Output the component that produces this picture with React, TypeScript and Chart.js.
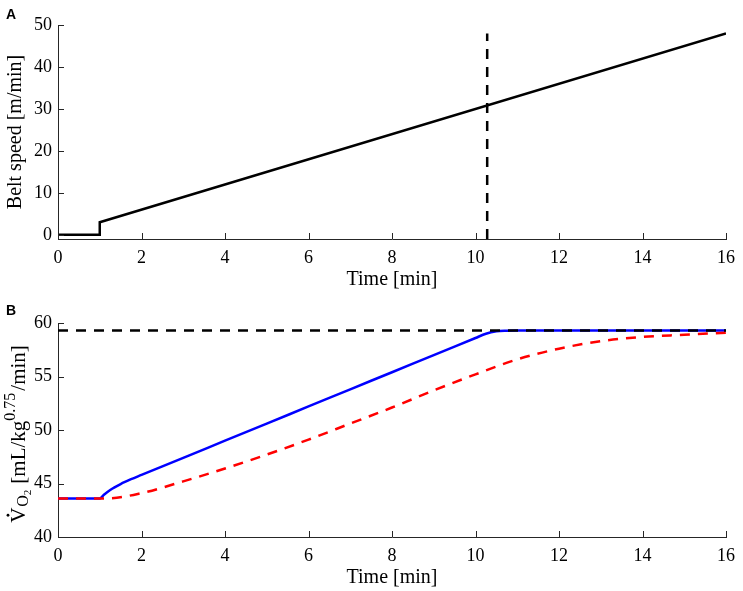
import { useEffect, useRef } from 'react'
import { Chart, registerables } from 'chart.js'
Chart.register(...registerables)

const SERIF = '"Liberation Serif", "Times New Roman", serif'
const INK = '#262626'

// shared x axis
const timeTicks = [0, 2, 4, 6, 8, 10, 12, 14, 16]

// panel A: belt speed protocol
const beltTime = [0, 1, 1, 16]
const beltSpeed = [0, 0, 3, 48]
const markTime = [10.28, 10.28]
const markSpeed = [-1, 48]
const speedTicks = [0, 10, 20, 30, 40, 50]

// panel B: oxygen uptake
const modelTime = [0, 1, 1.1, 1.25, 1.5, 1.75, 2, 3, 4, 5, 6, 7, 8, 9, 10, 10.25, 10.5, 10.75, 11, 16]
const modelVO2 = [43.6, 43.6, 43.95, 44.4, 44.95, 45.4, 45.8, 47.4, 49.0, 50.6, 52.2, 53.8, 55.4, 57.0, 58.6, 59.0, 59.22, 59.28, 59.3, 59.3]
const delayTime = [0, 1.15, 2, 3, 4, 5, 6, 7, 8, 9, 10, 11, 12, 13, 14, 15, 16]
const delayVO2 = [43.6, 43.6, 44.1, 45.2, 46.4, 47.7, 49.1, 50.6, 52.1, 53.7, 55.2, 56.6, 57.6, 58.3, 58.7, 58.9, 59.1]
const maxTime = [0, 16]
const maxVO2 = [59.3, 59.3]
const vo2Ticks = [40, 45, 50, 55, 60]

const pts = (xs: number[], ys: number[]) => xs.map((x, i) => ({ x, y: ys[i] }))

// inward tick marks + panel letter (+ optional hand drawn y title)
const framePlugin = (letter: string, letterY: number, extra?: (ctx: CanvasRenderingContext2D, chart: any) => void) => ({
  id: 'frame' + letter,
  afterDraw(chart: any) {
    const { ctx, scales: { x, y } } = chart
    ctx.save()
    ctx.strokeStyle = INK
    ctx.lineWidth = 1
    ctx.beginPath()
    x.ticks.forEach((t: any) => {
      const p = Math.round(x.getPixelForValue(t.value)) + 0.5
      ctx.moveTo(p, x.top); ctx.lineTo(p, x.top - 6)
    })
    y.ticks.forEach((t: any) => {
      const p = Math.round(y.getPixelForValue(t.value)) + 0.5
      ctx.moveTo(y.right, p); ctx.lineTo(y.right + 6, p)
    })
    ctx.stroke()
    ctx.fillStyle = '#000'
    ctx.font = 'bold 14px "Liberation Sans", Arial, sans-serif'
    ctx.textBaseline = 'alphabetic'
    ctx.fillText(letter, 6, letterY)
    if (extra) extra(ctx, chart)
    ctx.restore()
  },
})

// V̇_{O2} [mL/kg^{0.75}/min], rotated
const drawVO2Title = (ctx: CanvasRenderingContext2D, chart: any) => {
  const { y } = chart.scales
  const big = `21px ${SERIF}`, small = `16px ${SERIF}`, tiny = `11px ${SERIF}`
  const parts: [string, string, number, number][] = [
    ['V', big, 0, 1], ['O', small, 3, 0], ['2', tiny, 6, 6], ['[mL/kg', big, 0, 0], ['0.75', small, -10, 2], ['/min]', big, 0, 0],
  ]
  let total = 0
  parts.forEach(([t, f, , gap]) => { ctx.font = f; total += ctx.measureText(t).width + gap })
  ctx.translate(25, (y.top + y.bottom) / 2 + 4)
  ctx.rotate(-Math.PI / 2)
  ctx.fillStyle = '#000'
  ctx.textBaseline = 'alphabetic'
  let cx = -total / 2
  parts.forEach(([t, f, dy, gap], i) => {
    ctx.font = f
    ctx.fillText(t, cx, dy)
    if (i === 0) {
      ctx.beginPath()
      ctx.arc(cx + ctx.measureText(t).width / 2, -17, 1.4, 0, Math.PI * 2)
      ctx.fill()
    }
    cx += ctx.measureText(t).width + gap
  })
}

const xScale = (axisH: number, titlePad: number) => ({
  type: 'linear' as const,
  min: 0, max: 16,
  afterBuildTicks: (s: any) => { s.ticks = timeTicks.map(v => ({ value: v })) },
  afterFit: (s: any) => { s.height = axisH },
  grid: { display: false, drawTicks: false },
  border: { display: true, color: INK, width: 1 },
  ticks: { color: '#000', padding: 8, font: { family: SERIF, size: 18 }, maxRotation: 0 },
  title: { display: true, text: 'Time [min]', color: '#000', font: { family: SERIF, size: 20, lineHeight: 1 }, padding: { top: 0, bottom: titlePad } },
})

const yScale = (min: number, max: number, ticks: number[], title?: string) => ({
  type: 'linear' as const,
  min, max,
  afterBuildTicks: (s: any) => { s.ticks = ticks.map(v => ({ value: v })) },
  afterFit: (s: any) => { s.width = 58 },
  grid: { display: false, drawTicks: false },
  border: { display: true, color: INK, width: 1 },
  ticks: { color: '#000', padding: 6, font: { family: SERIF, size: 18 } },
  title: { display: !!title, text: title ?? '', color: '#000', font: { family: SERIF, size: 20, lineHeight: 1 }, padding: { top: 6, bottom: 0 } },
})

function Panel({ config, top, height }: { config: any; top: number; height: number }) {
  const ref = useRef<HTMLCanvasElement>(null)
  const inst = useRef<Chart | null>(null)
  useEffect(() => {
    if (!ref.current) return
    inst.current?.destroy()
    inst.current = new Chart(ref.current, config)
    return () => inst.current?.destroy()
  }, [config])
  return (
    <div style={{ position: 'absolute', left: 0, top, width: 743, height }}>
      <canvas ref={ref} />
    </div>
  )
}

const common = {
  responsive: true, maintainAspectRatio: false, animation: false as const, events: [] as any[],
  plugins: { legend: { display: false }, tooltip: { enabled: false } },
  elements: { point: { radius: 0 } },
}

const configA = {
  type: 'line',
  data: {
    datasets: [
      { data: pts(beltTime, beltSpeed), borderColor: '#000', borderWidth: 2.5, tension: 0 },
      { data: pts(markTime, markSpeed), borderColor: '#000', borderWidth: 2.5, borderDash: [10, 8], borderCapStyle: 'butt' },
    ],
  },
  options: {
    ...common,
    layout: { padding: { top: 25, right: 11, left: 0, bottom: 0 } },
    scales: { x: xScale(51, 0.5), y: yScale(-1, 50, speedTicks, 'Belt speed [m/min]') },
  },
  plugins: [framePlugin('A', 19)],
}

const configB = {
  type: 'line',
  data: {
    datasets: [
      { data: pts(maxTime, maxVO2), borderColor: '#000', borderWidth: 2.5, borderDash: [10, 8] },
      { data: pts(delayTime, delayVO2), borderColor: '#ff0000', borderWidth: 2.5, borderDash: [10, 8], cubicInterpolationMode: 'monotone' },
      { data: pts(modelTime, modelVO2), borderColor: '#0000ff', borderWidth: 2.5, cubicInterpolationMode: 'monotone' },
    ],
  },
  options: {
    ...common,
    layout: { padding: { top: 33, right: 11, left: 0, bottom: 0 } },
    scales: { x: xScale(54, 3.5), y: yScale(40, 60, vo2Ticks) },
  },
  plugins: [framePlugin('B', 24.5, drawVO2Title)],
}

export default function App() {
  return (
    <div style={{ position: 'absolute', left: 0, top: 0, width: 743, height: 591, background: '#fff' }}>
      <Panel config={configA} top={0} height={290} />
      <Panel config={configB} top={290} height={301} />
    </div>
  )
}
